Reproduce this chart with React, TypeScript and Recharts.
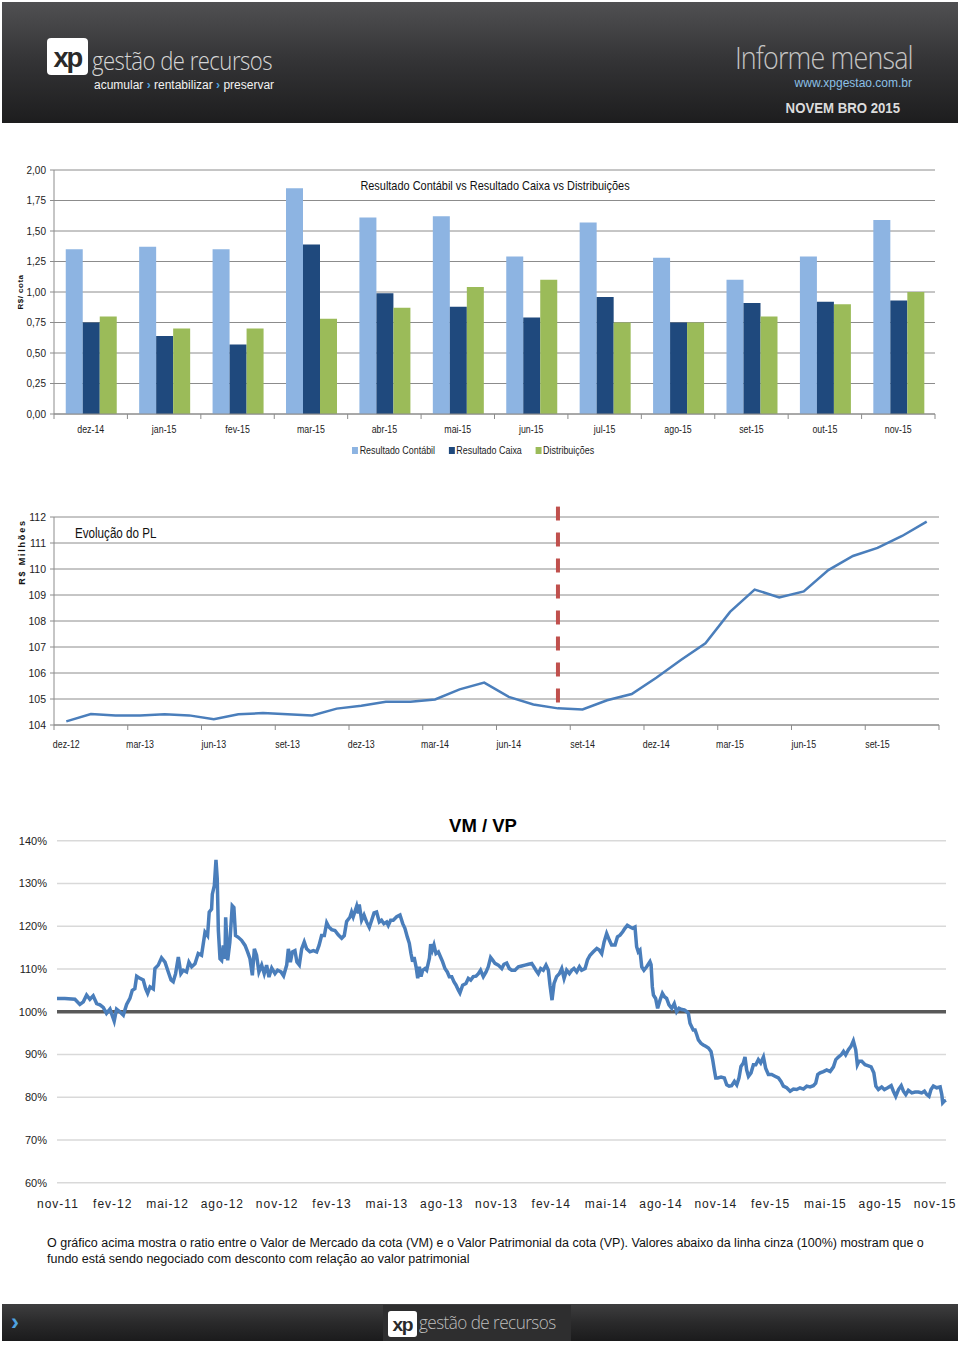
import React from "react";
import {
  BarChart,
  Bar,
  LineChart,
  Line,
  XAxis,
  YAxis,
  CartesianGrid,
  ReferenceLine,
} from "recharts";

// --- Data ---

const barMonths = ["dez-14", "jan-15", "fev-15", "mar-15", "abr-15", "mai-15", "jun-15", "jul-15", "ago-15", "set-15", "out-15", "nov-15"];
const resultadoContabil = [1.35, 1.37, 1.35, 1.85, 1.61, 1.62, 1.29, 1.57, 1.28, 1.1, 1.29, 1.59];
const resultadoCaixa = [0.75, 0.64, 0.57, 1.39, 0.99, 0.88, 0.79, 0.96, 0.75, 0.91, 0.92, 0.93];
const distribuicoes = [0.8, 0.7, 0.7, 0.78, 0.87, 1.04, 1.1, 0.75, 0.75, 0.8, 0.9, 1.0];
const barTicks = [0, 0.25, 0.5, 0.75, 1, 1.25, 1.5, 1.75, 2];

const plMonths = [
  "dez-12", "jan-13", "fev-13", "mar-13", "abr-13", "mai-13", "jun-13", "jul-13", "ago-13", "set-13", "out-13", "nov-13",
  "dez-13", "jan-14", "fev-14", "mar-14", "abr-14", "mai-14", "jun-14", "jul-14", "ago-14", "set-14", "out-14", "nov-14",
  "dez-14", "jan-15", "fev-15", "mar-15", "abr-15", "mai-15", "jun-15", "jul-15", "ago-15", "set-15", "out-15", "nov-15",
];
const plValues = [
  104.14, 104.42, 104.37, 104.37, 104.41, 104.37, 104.22, 104.41, 104.46, 104.41, 104.37, 104.63,
  104.74, 104.89, 104.89, 104.98, 105.37, 105.63, 105.08, 104.79, 104.64, 104.6, 104.95, 105.19,
  105.82, 106.5, 107.14, 108.35, 109.21, 108.91, 109.14, 109.96, 110.5, 110.81, 111.27, 111.82,
];
const plTicks = [104, 105, 106, 107, 108, 109, 110, 111, 112];
const plMarkMonth = "ago-14";

// VM/VP: [months since nov-11, ratio %]
const vmvpTickLabels = ["nov-11", "fev-12", "mai-12", "ago-12", "nov-12", "fev-13", "mai-13", "ago-13", "nov-13", "fev-14", "mai-14", "ago-14", "nov-14", "fev-15", "mai-15", "ago-15", "nov-15"];
const vmvpYTicks = [60, 70, 80, 90, 100, 110, 120, 130, 140];

const vmvp2012 = [
  [-0.05, 103.1], [0.38, 103.1], [0.93, 102.9], [1.2, 101.7], [1.39, 102.3], [1.57, 103.9], [1.75, 102.9], [1.93, 103.7],
  [2.12, 101.9], [2.3, 101.6], [2.48, 101.0], [2.66, 99.6], [2.85, 100.6], [3.08, 97.8], [3.21, 100.6], [3.39, 100.0],
  [3.58, 99.2], [3.76, 101.7], [3.94, 103.1], [4.07, 105.0], [4.21, 105.4], [4.31, 108.3], [4.49, 107.8], [4.67, 107.4],
  [4.8, 105.4], [4.91, 104.3], [5.04, 105.8], [5.22, 105.3], [5.31, 110.1], [5.49, 110.9], [5.67, 112.6], [5.86, 111.6],
  [6.04, 109.3], [6.19, 107.4], [6.31, 107.0], [6.44, 108.9], [6.59, 112.8], [6.73, 108.9], [6.86, 109.7], [7.04, 109.3],
  [7.17, 111.6], [7.32, 110.5], [7.5, 111.2], [7.68, 113.6], [7.86, 113.2], [8.05, 118.6], [8.19, 117.8], [8.28, 123.3],
  [8.41, 124.0], [8.45, 127.5], [8.56, 129.5], [8.65, 135.5], [8.72, 131.0], [8.78, 119.0], [8.87, 112.4], [8.96, 112.0],
  [9.05, 115.5], [9.14, 112.4], [9.18, 122.1], [9.29, 112.0], [9.41, 116.3], [9.54, 124.8], [9.63, 124.4], [9.72, 117.8],
  [9.87, 117.4], [10.05, 116.7], [10.24, 115.5], [10.38, 114.0], [10.51, 112.4], [10.64, 108.5], [10.75, 114.7], [10.87, 113.2],
  [11.0, 109.3], [11.15, 110.9], [11.29, 108.9], [11.42, 110.9], [11.55, 108.1], [11.7, 110.2], [11.88, 108.9], [12.02, 109.7],
  [12.21, 109.3], [12.35, 108.4], [12.52, 110.9], [12.61, 114.7], [12.72, 111.6], [12.83, 114.0], [12.97, 114.3], [13.08, 111.6],
  [13.21, 110.9], [13.34, 114.7], [13.48, 116.3], [13.61, 114.7], [13.79, 114.0], [13.98, 114.3], [14.16, 114.0], [14.29, 115.5],
  [14.43, 117.8], [14.58, 117.8], [14.71, 120.8], [14.83, 119.8], [14.98, 119.2], [15.16, 119.0], [15.34, 118.0], [15.53, 117.2],
  [15.67, 117.8], [15.8, 121.1], [15.98, 122.1], [16.07, 123.3],
];

const vmvp2013 = [
  [16.16, 122.2], [16.35, 124.7], [16.44, 123.0], [16.49, 125.1], [16.62, 121.4], [16.75, 122.6], [16.89, 121.0], [17.04, 119.7],
  [17.17, 121.4], [17.3, 123.1], [17.44, 123.3], [17.59, 121.0], [17.71, 121.4], [17.84, 120.6], [17.99, 121.0], [18.08, 120.2],
  [18.21, 121.4], [18.35, 121.4], [18.54, 122.2], [18.72, 122.6], [18.87, 120.6], [18.99, 119.5], [19.12, 117.5], [19.23, 116.0],
  [19.32, 113.6], [19.41, 111.7], [19.49, 112.8], [19.6, 110.5], [19.69, 107.8], [19.78, 110.5], [19.87, 108.2], [19.96, 109.7],
  [20.09, 110.1], [20.18, 109.7], [20.33, 112.5], [20.4, 115.8], [20.49, 114.4], [20.58, 115.6], [20.69, 113.6], [20.82, 114.0],
  [20.94, 112.8], [21.05, 111.7], [21.18, 110.1], [21.31, 109.3], [21.42, 108.2], [21.55, 108.2], [21.67, 107.0], [21.79, 106.2],
  [21.91, 105.1], [22.0, 104.4], [22.15, 106.2], [22.33, 106.6], [22.46, 107.8], [22.59, 107.4], [22.73, 108.2], [22.88, 108.3],
  [23.01, 108.9], [23.13, 109.7], [23.28, 108.2], [23.43, 109.3], [23.55, 110.5], [23.68, 112.7], [23.79, 112.1], [23.92, 111.3],
  [24.1, 110.9], [24.29, 110.1], [24.41, 111.1], [24.56, 111.4], [24.7, 110.1], [24.83, 109.7], [25.01, 109.7], [25.2, 110.5],
  [25.38, 110.7], [25.56, 110.9], [25.75, 111.1], [25.93, 111.3], [26.05, 110.5], [26.16, 109.7], [26.29, 108.9], [26.42, 110.1],
  [26.56, 109.7], [26.71, 110.9], [26.84, 109.7], [26.93, 106.2], [27.04, 102.7], [27.15, 106.6], [27.29, 108.2], [27.44, 108.9],
  [27.57, 110.1], [27.7, 107.8], [27.84, 109.7], [27.99, 108.9], [28.12, 109.7], [28.24, 110.1], [28.39, 109.3], [28.54, 110.5],
  [28.66, 109.7], [28.85, 110.1], [28.98, 112.1], [29.12, 113.2], [29.3, 114.0], [29.49, 114.8], [29.63, 114.4], [29.76, 113.6],
  [29.89, 116.3], [30.03, 118.3], [30.18, 116.7], [30.3, 115.6], [30.49, 115.6], [30.62, 117.5], [30.76, 117.9], [30.91, 118.7],
  [31.03, 119.5], [31.16, 120.2], [31.31, 119.8], [31.45, 119.5], [31.58, 119.8], [31.67, 115.2], [31.76, 114.0], [31.85, 114.4],
  [31.95, 110.5], [32.07, 109.7], [32.22, 110.5], [32.4, 111.7],
];

const vmvp2014 = [
  [32.46, 111.0], [32.53, 105.8], [32.59, 103.9], [32.71, 103.1], [32.82, 100.8], [32.95, 102.7], [33.08, 104.3], [33.19, 103.5],
  [33.31, 103.1], [33.44, 101.6], [33.59, 100.8], [33.73, 101.9], [33.86, 100.0], [33.99, 100.8], [34.14, 100.5], [34.28, 100.4],
  [34.41, 100.0], [34.5, 99.6], [34.59, 97.3], [34.68, 96.5], [34.77, 95.7], [34.87, 95.7], [34.96, 94.6], [35.05, 93.4],
  [35.19, 92.6], [35.32, 92.2], [35.45, 91.9], [35.6, 91.5], [35.74, 90.7], [35.83, 88.8], [35.92, 86.4], [36.0, 84.5],
  [36.11, 84.5], [36.29, 84.7], [36.47, 84.5], [36.6, 82.9], [36.73, 82.6], [36.87, 82.7], [37.02, 83.7], [37.15, 82.9],
  [37.27, 84.5], [37.38, 87.2], [37.51, 88.0], [37.6, 89.4], [37.69, 86.4], [37.79, 84.9], [37.93, 85.7], [38.06, 87.6],
  [38.19, 87.6], [38.33, 88.8], [38.46, 88.0], [38.61, 89.4], [38.73, 86.8], [38.88, 85.3], [39.06, 85.3], [39.24, 84.9],
  [39.43, 84.5], [39.57, 83.7], [39.7, 82.6], [39.88, 82.2], [40.07, 81.4], [40.25, 81.9], [40.43, 81.8], [40.61, 82.2],
  [40.8, 81.9], [40.98, 82.6], [41.16, 82.4], [41.34, 82.7], [41.47, 83.3], [41.58, 85.3], [41.71, 85.7], [41.89, 86.0],
  [42.07, 86.4], [42.26, 86.0], [42.44, 87.1], [42.57, 88.8], [42.71, 89.4], [42.86, 89.9], [42.99, 90.7], [43.11, 89.9],
  [43.26, 91.1], [43.4, 91.9], [43.53, 93.2], [43.66, 91.1], [43.75, 87.6], [43.84, 88.4], [43.99, 88.4], [44.17, 87.6],
  [44.32, 87.4], [44.5, 87.1], [44.65, 85.7], [44.76, 82.6], [44.9, 81.8], [45.08, 82.4], [45.23, 81.8], [45.41, 82.2],
  [45.6, 82.7], [45.72, 81.4], [45.85, 80.2], [46.0, 81.8], [46.15, 82.7], [46.27, 81.4], [46.4, 80.6], [46.54, 81.6],
  [46.73, 81.0], [46.91, 81.2], [47.09, 81.2], [47.27, 81.0], [47.42, 81.4], [47.55, 80.6], [47.67, 80.2], [47.78, 81.8],
  [47.91, 82.6], [48.09, 82.2], [48.28, 82.4], [48.37, 80.6], [48.42, 78.7], [48.51, 79.1], [48.6, 79.3],
];

// --- Helpers ---

const sans = "'Liberation Sans', Arial, sans-serif";
const thin = "'Open Sans', sans-serif";
const gridGray = "#8c8c8c";

const barData = barMonths.map((name, i) => ({
  name,
  contabil: resultadoContabil[i],
  caixa: resultadoCaixa[i],
  distrib: distribuicoes[i],
}));
const plData = plMonths.map((name, i) => ({ name, pl: plValues[i] }));
const vmvpData = [...vmvp2012, ...vmvp2013, ...vmvp2014].map(([m, v]) => ({ m, v }));
const vmvpTicks = vmvpTickLabels.map((_, i) => i * 3);

const fmtComma = (v: number) => v.toFixed(2).replace(".", ",");

// excel-like category ticks: marks between categories, narrow labels centred
function BandTick(props: any) {
  const { x, y, payload, index, band, step, lastIndex, dy } = props;
  return (
    <g>
      <line x1={x - band / 2} x2={x - band / 2} y1={y} y2={y + 5} stroke={gridGray} />
      {index === lastIndex && (
        <line x1={x + band * (step - 0.5)} x2={x + band * (step - 0.5)} y1={y} y2={y + 5} stroke={gridGray} />
      )}
      <text
        transform={`translate(${x},${y + dy}) scale(0.84,1)`}
        textAnchor="middle"
        fontSize={10.5}
        fill="#222"
        fontFamily={sans}
      >
        {payload.value}
      </text>
    </g>
  );
}

function XpMark({ left, top, size }: { left: number; top: number; size: number }) {
  return (
    <div
      style={{
        position: "absolute",
        left,
        top,
        width: size * 1.1,
        height: size,
        background: "#fff",
        borderRadius: size / 9,
        color: "#2a2a2a",
        fontFamily: sans,
        fontWeight: 700,
        fontSize: size * 0.74,
        lineHeight: `${size * 1.08}px`,
        letterSpacing: -size / 18,
        textAlign: "center",
      }}
    >
      xp
    </div>
  );
}

function Header() {
  return (
    <div
      style={{
        position: "absolute",
        left: 2,
        top: 2,
        width: 956,
        height: 121,
        background: "linear-gradient(180deg, #505052 0%, #333335 50%, #1d1d1e 100%)",
      }}
    >
      <XpMark left={45} top={36} size={37} />
      <div style={{ position: "absolute", left: 90, top: 45, color: "#d6d6d6", fontFamily: thin, fontWeight: 300, fontSize: 26, lineHeight: 1, letterSpacing: -0.6, whiteSpace: "nowrap", transform: "scaleX(0.85)", transformOrigin: "left center" }}>
        gestão de recursos
      </div>
      <div style={{ position: "absolute", left: 92, top: 76, color: "#f2f2f2", fontFamily: sans, fontSize: 12, whiteSpace: "nowrap" }}>
        acumular <span style={{ color: "#4fa3e0", fontWeight: 700 }}>›</span> rentabilizar <span style={{ color: "#4fa3e0", fontWeight: 700 }}>›</span> preservar
      </div>
      <div style={{ position: "absolute", right: 45, top: 39, height: 34, color: "#c4c4c4", fontFamily: thin, fontWeight: 300, fontSize: 32, lineHeight: "32px", letterSpacing: -1, whiteSpace: "nowrap", transform: "scaleX(0.84)", transformOrigin: "right center" }}>
        Informe mensal
      </div>
      <div style={{ position: "absolute", right: 46, top: 75, color: "#8cc0e6", fontFamily: sans, fontSize: 12, lineHeight: "12px", whiteSpace: "nowrap" }}>
        www.xpgestao.com.br
      </div>
      <div style={{ position: "absolute", right: 58, top: 98, color: "#dcdcdc", fontFamily: sans, fontWeight: 700, fontSize: 15, lineHeight: 1, whiteSpace: "nowrap", transform: "scaleX(0.88)", transformOrigin: "right center" }}>
        NOVEM BRO 2015
      </div>
    </div>
  );
}

function BarLegend() {
  const items = [
    { label: "Resultado Contábil", color: "#8DB4E2" },
    { label: "Resultado Caixa", color: "#1F497D" },
    { label: "Distribuições", color: "#9BBB59" },
  ];
  return (
    <div style={{ position: "absolute", left: 352, top: 444, display: "flex", gap: 16, fontFamily: sans, fontSize: 10.5, color: "#222", transform: "scaleX(0.85)", transformOrigin: "left center" }}>
      {items.map((it) => (
        <div key={it.label} style={{ display: "flex", alignItems: "center", gap: 2 }}>
          <span style={{ width: 7, height: 7, background: it.color, display: "inline-block" }} />
          <span>{it.label}</span>
        </div>
      ))}
    </div>
  );
}

function ResultadoChart() {
  return (
    <div style={{ position: "absolute", left: 0, top: 150 }}>
      <BarChart
        width={960}
        height={320}
        data={barData}
        margin={{ top: 20, right: 25, bottom: 26, left: 0 }}
        barGap={0}
        barCategoryGap="16%"
      >
        <CartesianGrid vertical={false} stroke={gridGray} />
        <XAxis
          dataKey="name"
          height={30}
          interval={0}
          axisLine={{ stroke: gridGray }}
          tickLine={false}
          tickSize={0}
          tickMargin={0}
          tick={<BandTick band={881 / 12} step={1} lastIndex={11} dy={19} />}
        />
        <YAxis
          width={54}
          domain={[0, 2]}
          ticks={barTicks}
          tickFormatter={fmtComma}
          axisLine={{ stroke: gridGray }}
          tickLine={{ stroke: gridGray }}
          tickSize={4}
          tickMargin={4}
          tick={{ fontSize: 10, fill: "#222", fontFamily: sans }}
        />
        <Bar dataKey="contabil" fill="#8DB4E2" isAnimationActive={false} />
        <Bar dataKey="caixa" fill="#1F497D" isAnimationActive={false} />
        <Bar dataKey="distrib" fill="#9BBB59" isAnimationActive={false} />
      </BarChart>
    </div>
  );
}

function PLChart() {
  return (
    <div style={{ position: "absolute", left: 0, top: 500 }}>
      <LineChart width={960} height={260} data={plData} margin={{ top: 17, right: 21, bottom: 5, left: 0 }}>
        <CartesianGrid vertical={false} stroke={gridGray} />
        <XAxis
          dataKey="name"
          height={30}
          interval={2}
          padding={{ left: 12.3, right: 12.3 }}
          axisLine={{ stroke: gridGray }}
          tickLine={false}
          tickSize={0}
          tickMargin={0}
          tick={<BandTick band={885 / 36} step={3} lastIndex={11} dy={23} />}
        />
        <YAxis
          width={54}
          domain={[104, 112]}
          ticks={plTicks}
          axisLine={{ stroke: gridGray }}
          tickLine={{ stroke: gridGray }}
          tickSize={4}
          tickMargin={4}
          tick={{ fontSize: 10.5, fill: "#222", fontFamily: sans }}
        />
        <ReferenceLine
          segment={[
            { x: plMarkMonth, y: 112.4 },
            { x: plMarkMonth, y: 104.55 },
          ]}
          stroke="#C0504D"
          strokeWidth={4}
          strokeDasharray="14 12"
          ifOverflow="visible"
        />
        <Line type="linear" dataKey="pl" stroke="#4A7EBB" strokeWidth={2.5} dot={false} isAnimationActive={false} />
      </LineChart>
    </div>
  );
}

function VmVpChart() {
  return (
    <div style={{ position: "absolute", left: 0, top: 800 }}>
      <LineChart width={960} height={430} data={vmvpData} margin={{ top: 40.7, right: 14, bottom: 27.3, left: 0 }}>
        <CartesianGrid vertical={false} stroke="#d9d9d9" strokeWidth={1.5} />
        <XAxis
          type="number"
          dataKey="m"
          domain={[-0.05, 48.6]}
          ticks={vmvpTicks}
          interval={0}
          tickFormatter={(m: number) => vmvpTickLabels[Math.round(m / 3)]}
          axisLine={false}
          tickLine={false}
          height={20}
          tickMargin={11}
          tick={{ fontSize: 12, fill: "#222", fontFamily: sans, letterSpacing: 1 }}
        />
        <YAxis
          width={57}
          domain={[60, 140]}
          ticks={vmvpYTicks}
          tickFormatter={(v: number) => `${v}%`}
          axisLine={false}
          tickLine={false}
          tickMargin={4}
          tick={{ fontSize: 11, fill: "#222", fontFamily: sans }}
        />
        <ReferenceLine y={100} stroke="#595959" strokeWidth={3.5} />
        <Line type="linear" dataKey="v" stroke="#4A7EBB" strokeWidth={3.5} dot={false} isAnimationActive={false} />
      </LineChart>
    </div>
  );
}

function Footer() {
  return (
    <div
      style={{
        position: "absolute",
        left: 2,
        top: 1304,
        width: 956,
        height: 37,
        background: "linear-gradient(180deg, #3e3e3f 0%, #2a2a2b 50%, #1b1b1c 100%)",
      }}
    >
      <div style={{ position: "absolute", left: 9, top: 4, color: "#4fa3e0", fontFamily: sans, fontWeight: 700, fontSize: 24 }}>›</div>
      <div style={{ position: "absolute", left: 381, top: 1, width: 188, height: 36, background: "#2e2e2f" }} />
      <XpMark left={386} top={7} size={26} />
      <div style={{ position: "absolute", left: 417, top: 9, color: "#bdbdbd", fontFamily: thin, fontWeight: 300, fontSize: 19, lineHeight: 1, letterSpacing: -0.6, whiteSpace: "nowrap", transform: "scaleX(0.9)", transformOrigin: "left center" }}>
        gestão de recursos
      </div>
    </div>
  );
}

export default function App() {
  return (
    <div style={{ position: "absolute", left: 0, top: 0, width: 960, height: 1345, background: "#fff", overflow: "hidden" }}>
      <Header />
      <ResultadoChart />
      <BarLegend />
      <div style={{ position: "absolute", left: 494.5, top: 186, transform: "translate(-50%, -50%) scaleX(0.81)", fontFamily: sans, fontSize: 13.5, lineHeight: 1, color: "#111", whiteSpace: "nowrap" }}>
        Resultado Contábil vs Resultado Caixa vs Distribuições
      </div>
      <div style={{ position: "absolute", left: 20, top: 292, transform: "translate(-50%, -50%) rotate(-90deg)", fontFamily: sans, fontWeight: 700, fontSize: 8, letterSpacing: 0.5, whiteSpace: "nowrap", color: "#111" }}>
        R$/ cota
      </div>

      <PLChart />
      <div style={{ position: "absolute", left: 75, top: 525, fontFamily: sans, fontSize: 15.5, lineHeight: 1, color: "#111", whiteSpace: "nowrap", transform: "scaleX(0.75)", transformOrigin: "left center" }}>
        Evolução do PL
      </div>
      <div style={{ position: "absolute", left: 22, top: 552, transform: "translate(-50%, -50%) rotate(-90deg)", fontFamily: sans, fontWeight: 700, fontSize: 9, letterSpacing: 1.8, whiteSpace: "nowrap", color: "#111" }}>
        R$ Milhões
      </div>

      <VmVpChart />
      <div style={{ position: "absolute", left: 483, top: 826, transform: "translate(-50%, -50%)", fontFamily: sans, fontWeight: 700, fontSize: 18.5, color: "#000", whiteSpace: "nowrap" }}>
        VM / VP
      </div>

      <div style={{ position: "absolute", left: 47, top: 1235, fontFamily: sans, fontSize: 12.5, letterSpacing: 0, lineHeight: "16px", color: "#111", whiteSpace: "nowrap" }}>
        O gráfico acima mostra o ratio entre o Valor de Mercado da cota (VM) e o Valor Patrimonial da cota (VP). Valores abaixo da linha cinza (100%) mostram que o
        <br />
        fundo está sendo negociado com desconto com relação ao valor patrimonial
      </div>

      <Footer />
    </div>
  );
}
